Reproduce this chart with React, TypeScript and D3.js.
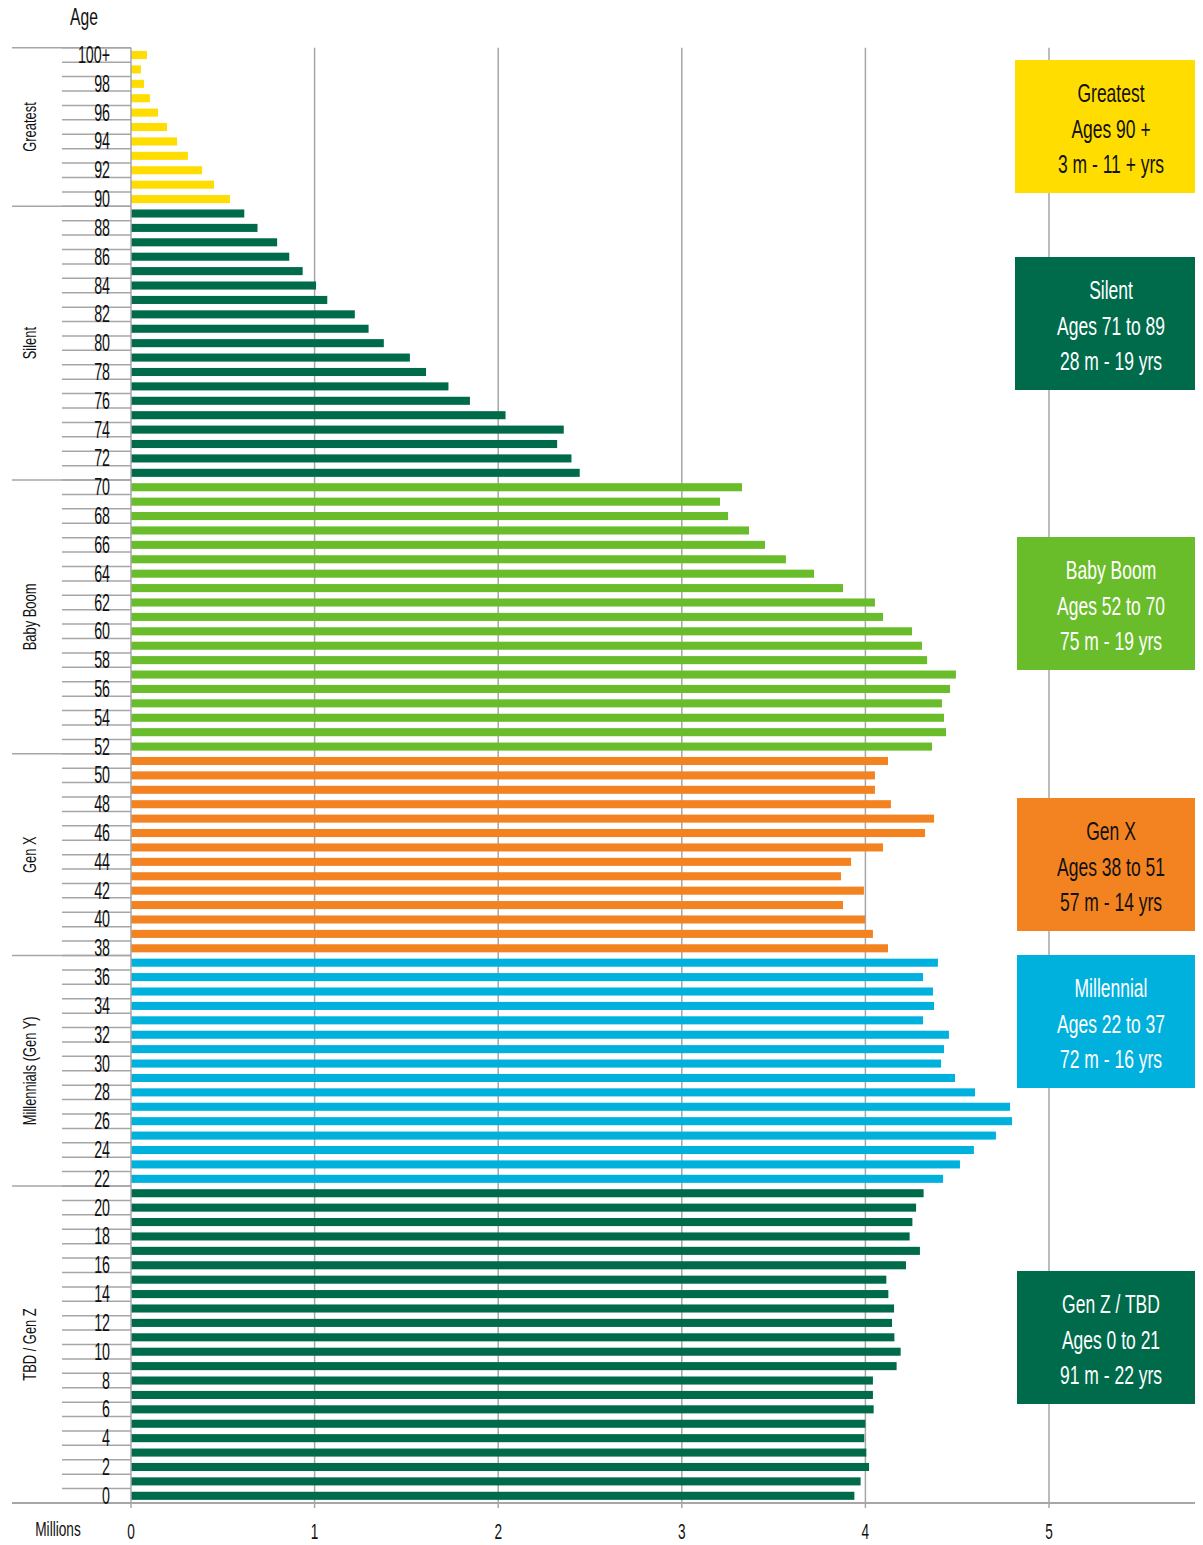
import React, { useEffect, useRef } from "react";
import * as d3 from "d3";

// Population (millions) by single year of age, oldest first, per generation
const greatestAges = ["100+", "99", "98", "97", "96", "95", "94", "93", "92", "91", "90"];
const greatestValues = [0.087, 0.054, 0.071, 0.103, 0.147, 0.196, 0.251, 0.31, 0.387, 0.452, 0.539];
const silentValues = [0.617, 0.689, 0.796, 0.862, 0.935, 1.008, 1.069, 1.219, 1.294, 1.377, 1.519, 1.607, 1.729, 1.846, 2.04, 2.357, 2.321, 2.399, 2.444];
const boomValues = [3.328, 3.208, 3.252, 3.366, 3.453, 3.567, 3.72, 3.878, 4.052, 4.096, 4.254, 4.308, 4.336, 4.493, 4.461, 4.417, 4.428, 4.439, 4.363];
const genXValues = [4.123, 4.052, 4.052, 4.139, 4.374, 4.325, 4.096, 3.922, 3.867, 3.992, 3.878, 3.998, 4.041, 4.123];
const millennialValues = [4.395, 4.314, 4.368, 4.374, 4.314, 4.455, 4.428, 4.412, 4.488, 4.597, 4.788, 4.799, 4.711, 4.591, 4.515, 4.423];
const genZValues = [4.317, 4.276, 4.256, 4.241, 4.297, 4.221, 4.114, 4.125, 4.156, 4.145, 4.158, 4.192, 4.17, 4.041, 4.041, 4.045, 4.0, 3.994, 4.005, 4.02, 3.974, 3.94];

const xTicks = [0, 1, 2, 3, 4, 5];

const genNames = ["Greatest", "Silent", "Baby Boom", "Gen X", "Millennials (Gen Y)", "TBD / Gen Z"];
const genColors = ["#FFDD00", "#006B4B", "#6ABD2A", "#F38321", "#00B1DE", "#006B4B"];
const genTextColors = ["#111111", "#ffffff", "#ffffff", "#111111", "#ffffff", "#ffffff"];
const genBoxLines = [
  ["Greatest", "Ages 90 +", "3 m - 11 + yrs"],
  ["Silent", "Ages 71 to 89", "28 m - 19 yrs"],
  ["Baby Boom", "Ages 52 to 70", "75 m - 19 yrs"],
  ["Gen X", "Ages 38 to 51", "57 m - 14 yrs"],
  ["Millennial", "Ages 22 to 37", "72 m - 16 yrs"],
  ["Gen Z / TBD", "Ages 0 to 21", "91 m - 22 yrs"],
];
const genBoxTops = [60, 257, 537, 798, 955, 1271];

const FONT = "'Liberation Sans', Arial, sans-serif";

export default function App() {
  const ref = useRef<SVGSVGElement | null>(null);

  useEffect(() => {
    const svg = d3.select(ref.current);
    svg.selectAll("*").remove();

    const seriesList = [greatestValues, silentValues, boomValues, genXValues, millennialValues, genZValues];
    const rows: { age: string; value: number; gen: number }[] = [];
    let ageNum = 100;
    seriesList.forEach((vals, gi) => {
      vals.forEach((v, i) => {
        const label = gi === 0 ? greatestAges[i] : String(ageNum);
        rows.push({ age: label, value: v, gen: gi });
        ageNum--;
      });
    });

    const x = d3.scaleLinear().domain([0, 5]).range([131, 1049]);
    const y = d3
      .scaleBand<string>()
      .domain(rows.map((r) => r.age))
      .range([47.8, 1503])
      .paddingInner(0.44)
      .paddingOuter(0.22);
    const step = y.step();
    const bw = y.bandwidth();
    const slotTop = (a: string) => (y(a) as number) - (step - bw) / 2;
    const slotMid = (a: string) => (y(a) as number) + bw / 2;

    const grid = "#a6a6a6";

    // vertical gridlines
    svg
      .append("g")
      .selectAll("line")
      .data(xTicks.filter((t) => t > 0))
      .join("line")
      .attr("x1", (d) => x(d))
      .attr("x2", (d) => x(d))
      .attr("y1", 47.8)
      .attr("y2", 1508)
      .attr("stroke", grid)
      .attr("stroke-width", 1.5);

    // left short tick lines at slot boundaries
    const bounds = rows.map((r) => slotTop(r.age)).concat([1503]);
    svg
      .append("g")
      .selectAll("line")
      .data(bounds)
      .join("line")
      .attr("x1", 62)
      .attr("x2", 131)
      .attr("y1", (d) => d)
      .attr("y2", (d) => d)
      .attr("stroke", grid)
      .attr("stroke-width", 1.5);

    // generation separators (long lines)
    const genStarts: number[] = [];
    const genEnds: number[] = [];
    genNames.forEach((_, gi) => {
      const gr = rows.filter((r) => r.gen === gi);
      genStarts.push(slotTop(gr[0].age));
      genEnds.push(slotTop(gr[gr.length - 1].age) + step);
    });
    svg
      .append("g")
      .selectAll("line")
      .data(genStarts)
      .join("line")
      .attr("x1", 12)
      .attr("x2", 131)
      .attr("y1", (d) => d)
      .attr("y2", (d) => d)
      .attr("stroke", grid)
      .attr("stroke-width", 1.5);

    // bars
    svg
      .append("g")
      .selectAll("rect")
      .data(rows)
      .join("rect")
      .attr("x", x(0))
      .attr("y", (d) => y(d.age) as number)
      .attr("width", (d) => x(d.value) - x(0))
      .attr("height", bw)
      .attr("fill", (d) => genColors[d.gen]);

    // axes lines
    svg
      .append("line")
      .attr("x1", 131)
      .attr("x2", 131)
      .attr("y1", 47.8)
      .attr("y2", 1508)
      .attr("stroke", grid)
      .attr("stroke-width", 1.5);
    svg
      .append("line")
      .attr("x1", 12)
      .attr("x2", 1195)
      .attr("y1", 1503)
      .attr("y2", 1503)
      .attr("stroke", grid)
      .attr("stroke-width", 2);

    const addText = (
      g: d3.Selection<any, any, any, any>,
      txt: string,
      tx: number,
      ty: number,
      fs: number,
      sx: number,
      anchor: string,
      fill = "#111",
      rotate = 0
    ) =>
      g
        .append("text")
        .attr("transform", `translate(${tx},${ty}) rotate(${rotate}) scale(${sx},1)`)
        .attr("text-anchor", anchor)
        .attr("font-family", FONT)
        .attr("font-size", fs)
        .attr("fill", fill)
        .text(txt);

    // age tick labels (every other)
    const lab = svg.append("g");
    rows.forEach((r, i) => {
      if (i % 2 === 0) addText(lab, r.age, 110, slotMid(r.age) + 8, 23, 0.62, "end");
    });

    // generation rotated labels
    genNames.forEach((n, gi) => {
      addText(lab, n, 36, (genStarts[gi] + genEnds[gi]) / 2, 19, 0.68, "middle", "#111", -90);
    });

    // x tick labels
    xTicks.forEach((t) => addText(lab, String(t), x(t), 1539, 22, 0.62, "middle"));
    addText(lab, "Millions", 58, 1536, 21, 0.65, "middle");
    addText(lab, "Age", 84, 25, 23, 0.68, "middle");

    // legend boxes
    const boxes = svg.append("g");
    genBoxLines.forEach((lines, gi) => {
      const top = genBoxTops[gi];
      boxes
        .append("rect")
        .attr("x", gi === 0 || gi === 1 ? 1015 : 1017)
        .attr("y", top)
        .attr("width", gi === 0 || gi === 1 ? 180 : 178)
        .attr("height", 133)
        .attr("fill", genColors[gi]);
      lines.forEach((ln, li) => {
        addText(boxes, ln, 1111, top + 42 + li * 35.5, 25, 0.7, "middle", genTextColors[gi]);
      });
    });
  }, []);

  return (
    <div style={{ position: "absolute", left: 0, top: 0 }}>
      <svg ref={ref} width={1203} height={1545} style={{ display: "block", background: "#fff" }} />
    </div>
  );
}
